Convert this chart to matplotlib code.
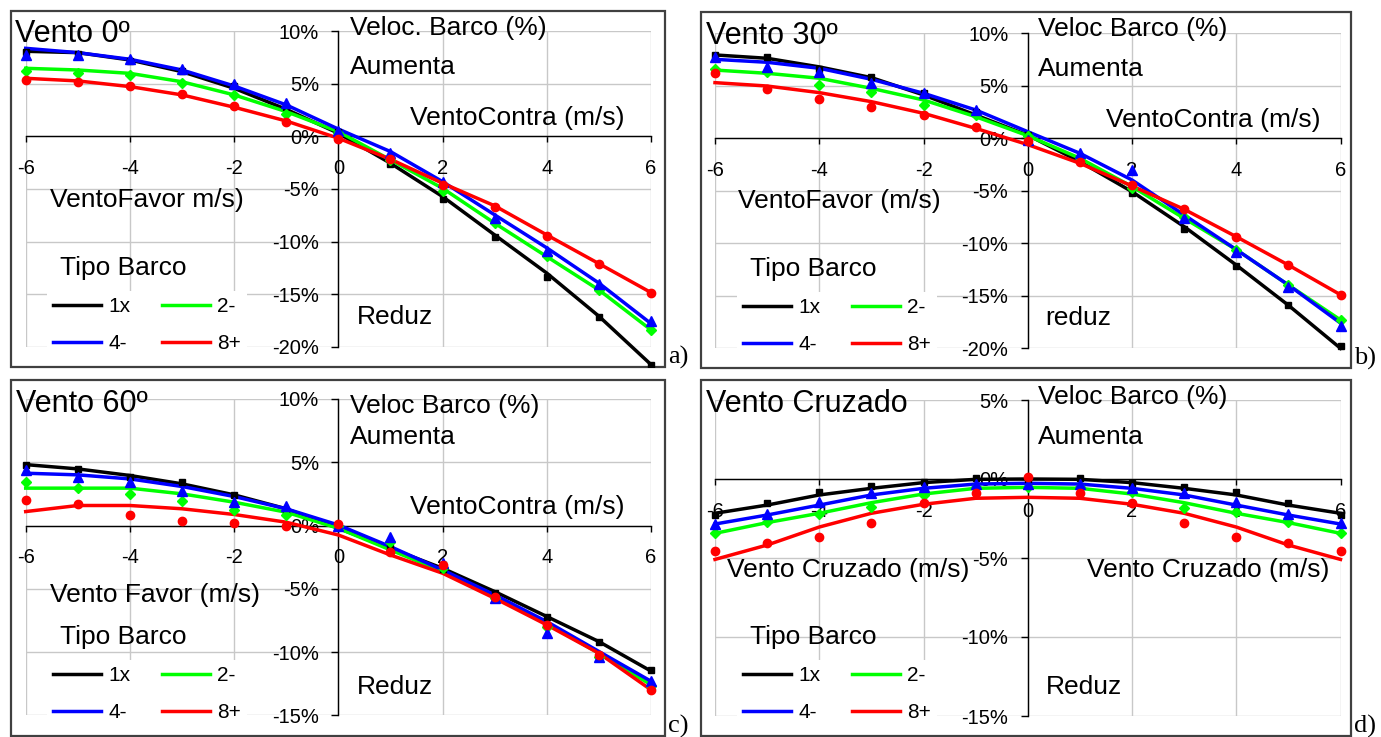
import matplotlib
matplotlib.use("Agg")
import matplotlib.pyplot as plt
from matplotlib.lines import Line2D
from matplotlib.patches import Rectangle
from matplotlib.ticker import FuncFormatter
from matplotlib.transforms import Bbox, TransformedBbox

plt.rcParams['font.family'] = ['Liberation Sans', 'DejaVu Sans']

# wind speed (m/s), negative = tail wind
vento = [-6, -5, -4, -3, -2, -1, 0, 1, 2, 3, 4, 5, 6]
tipos = ['1x', '2-', '4-', '8+']

# (a) Vento 0º - measured points and trend lines (%)
a_pts_1x = [8.06, 7.8, 7.2, 6.2, 4.8, 2.8, 0.4, -2.65, -5.97, -9.58, -13.4, -17.2, -21.7]
a_pts_2 = [6.23, 6.07, 5.85, 5.06, 3.94, 2.14, 0.3, -2.2, -5.15, -8.2, -11.4, -14.6, -18.4]
a_pts_4 = [7.75, 7.75, 7.34, 6.39, 4.99, 3.15, 0.5, -1.6, -4.3, -7.78, -10.85, -14.05, -17.6]
a_pts_8 = [5.37, 5.15, 4.8, 4.04, 2.9, 1.41, -0.2, -2.1, -4.6, -6.7, -9.43, -12.1, -14.85]
a_fit_1x = [8.1, 7.97, 7.27, 6.16, 4.58, 2.58, 0.3, -2.55, -5.72, -9.37, -13.0, -17.1, -21.7]
a_fit_2 = [6.48, 6.32, 6.0, 5.2, 3.95, 2.36, 0.46, -2.23, -4.93, -8.25, -11.43, -14.6, -18.4]
a_fit_4 = [8.38, 7.97, 7.34, 6.32, 4.8, 3.0, 0.7, -1.44, -4.3, -7.46, -10.6, -13.95, -17.8]
a_fit_8 = [5.53, 5.28, 4.74, 3.95, 2.78, 1.47, -0.17, -2.17, -4.45, -6.6, -9.37, -12.1, -14.85]

# (b) Vento 30º
b_pts_1x = [7.94, 7.7, 6.6, 5.81, 4.29, 2.54, 0.3, -2.1, -5.24, -8.67, -12.2, -15.9, -19.8]
b_pts_2 = [6.57, 6.35, 5.08, 4.45, 3.17, 2.2, 0.2, -1.9, -4.76, -7.46, -10.6, -13.97, -17.3]
b_pts_4 = [7.78, 6.8, 6.35, 5.3, 4.35, 2.7, -0.16, -1.43, -3.02, -7.62, -10.8, -14.2, -17.9]
b_pts_8 = [6.19, 4.67, 3.75, 3.02, 2.22, 1.11, -0.3, -2.3, -4.44, -6.76, -9.43, -12.07, -14.9]
b_fit_1x = [7.94, 7.62, 6.8, 5.78, 4.13, 2.22, 0.3, -2.22, -5.08, -8.41, -12.07, -15.9, -20.0]
b_fit_2 = [6.5, 6.19, 5.72, 4.76, 3.65, 2.06, 0.25, -1.9, -4.6, -7.62, -10.6, -13.97, -17.3]
b_fit_4 = [7.52, 7.24, 6.67, 5.62, 4.29, 2.7, 0.63, -1.43, -3.97, -7.3, -10.6, -13.97, -17.6]
b_fit_8 = [5.3, 4.98, 4.35, 3.49, 2.38, 0.95, -0.6, -2.38, -4.54, -6.76, -9.37, -12.07, -14.9]

# (c) Vento 60º
c_pts_1x = [4.81, 4.47, 3.87, 3.42, 2.42, 1.18, 0.0, -1.8, -3.4, -5.3, -7.19, -9.24, -11.45]
c_pts_2 = [3.47, 2.95, 2.5, 1.97, 1.24, 0.79, 0.0, -1.28, -3.38, -5.75, -7.98, -10.35, -12.7]
c_pts_4 = [4.39, 3.81, 3.42, 2.76, 1.84, 1.53, 0.0, -0.88, -2.93, -5.75, -8.5, -10.35, -12.3]
c_pts_8 = [2.05, 1.66, 0.84, 0.34, 0.21, 0.0, 0.12, -2.06, -3.1, -5.62, -7.85, -10.2, -13.0]
c_fit_1x = [4.81, 4.47, 3.95, 3.29, 2.42, 1.32, -0.22, -1.8, -3.38, -5.22, -7.19, -9.17, -11.5]
c_fit_2 = [2.95, 2.95, 2.95, 2.5, 1.84, 1.05, -0.22, -1.93, -3.64, -5.62, -7.72, -10.09, -12.58]
c_fit_4 = [4.13, 4.0, 3.68, 3.08, 2.29, 1.32, 0.04, -1.67, -3.51, -5.48, -7.59, -9.95, -12.3]
c_fit_8 = [1.1, 1.58, 1.58, 1.32, 0.87, 0.26, -0.75, -2.33, -3.77, -5.75, -7.85, -10.09, -12.98]

# (d) Vento Cruzado
d_pts_1x = [-2.28, -1.5, -0.84, -0.44, -0.17, 0.04, 0.0, 0.04, -0.23, -0.49, -0.84, -1.5, -2.28]
d_pts_2 = [-3.4, -2.7, -2.22, -1.79, -1.01, -0.53, -0.5, -0.53, -0.8, -1.81, -2.07, -2.7, -3.4]
d_pts_4 = [-2.85, -2.22, -1.43, -0.91, -0.53, -0.32, -0.3, -0.32, -0.59, -0.91, -1.43, -2.22, -2.81]
d_pts_8 = [-4.54, -4.03, -3.65, -2.76, -1.54, -0.91, 0.1, -0.91, -1.54, -2.76, -3.65, -4.03, -4.54]
d_fit_1x = [-2.17, -1.65, -1.01, -0.59, -0.23, -0.02, 0.0, -0.02, -0.23, -0.59, -1.01, -1.65, -2.17]
d_fit_2 = [-3.44, -2.76, -2.17, -1.5, -0.95, -0.59, -0.53, -0.59, -0.95, -1.5, -2.17, -2.76, -3.44]
d_fit_4 = [-2.85, -2.28, -1.65, -1.01, -0.59, -0.32, -0.27, -0.32, -0.59, -1.01, -1.65, -2.28, -2.85]
d_fit_8 = [-5.09, -4.18, -3.04, -2.17, -1.6, -1.22, -1.16, -1.22, -1.6, -2.17, -3.04, -4.18, -5.09]

colors = ['#000000', '#00ff00', '#0000ff', '#ff0000']
markers = ['s', 'D', '^', 'o']
msizes = [5, 5, 6.5, 6]

W, H = 1381, 737
fig = plt.figure(figsize=(W / 100, H / 100), dpi=100)


def fx(x):
    return x / W


def fy(y):
    return 1 - y / H


def panel(frame, area, ylim, pts, fits, texts, tag):
    # frame = (left, top, right, bottom) px, area = (x-6, ytop, x6, ybottom) px
    fl, ft, fr, fb = frame
    rect = Rectangle((fx(fl), fy(fb)), (fr - fl) / W, (fb - ft) / H,
                     transform=fig.transFigure, fill=False,
                     edgecolor='#404040', lw=1.6, zorder=0)
    fig.add_artist(rect)
    clip = TransformedBbox(Bbox.from_extents(fx(fl), fy(fb), fx(fr), fy(ft)),
                           fig.transFigure)

    x0, yt, x1, yb = area
    ax = fig.add_axes([fx(x0), fy(yb), (x1 - x0) / W, (yb - yt) / H])
    ax.patch.set_alpha(0)
    ax.set_xlim(-6, 6)
    ax.set_ylim(*ylim)
    ax.set_xticks(range(-6, 7, 2))
    ax.set_yticks(range(ylim[0], ylim[1] + 1, 5))
    ax.yaxis.set_major_formatter(FuncFormatter(lambda v, p: f'{v:.0f}%'))
    ax.xaxis.set_major_formatter(FuncFormatter(lambda v, p: f'{v:.0f}'))
    for s in ['top', 'right']:
        ax.spines[s].set_visible(False)
    ax.spines['left'].set_position(('data', 0))
    ax.spines['bottom'].set_position(('data', 0))
    ax.spines['left'].set_linewidth(1.0)
    ax.spines['bottom'].set_linewidth(1.0)
    ax.grid(True, color='#c8c8c8', lw=1.0)
    ax.set_axisbelow(True)
    ax.tick_params(axis='y', direction='out', length=5, width=1, pad=9, labelsize=14.5)
    ax.tick_params(axis='x', direction='out', length=4.5, width=1, pad=12, labelsize=14.5)

    for i in range(4):
        ln, = ax.plot(vento, fits[i], color=colors[i], lw=2.5, zorder=3)
        ln.set_clip_box(clip)
    for i in range(4):
        mk, = ax.plot(vento, pts[i], ls='none', marker=markers[i], ms=msizes[i],
                      color=colors[i], zorder=4)
        mk.set_clip_box(clip)

    for (tx, ty, s, size) in texts:
        fig.text(fx(tx), fy(ty), s, fontsize=size, ha='left', va='center')

    # legend
    handles = [Line2D([], [], color=c, lw=2.5) for c in colors]
    order = [0, 2, 1, 3]
    ax.legend([handles[k] for k in order], [tipos[k] for k in order],
              ncol=2, loc='upper left',
              bbox_to_anchor=(fx(fl + 36), fy(ft + 280)),
              bbox_transform=fig.transFigure, fontsize=15,
              frameon=True, facecolor='white', edgecolor='none',
              framealpha=1, fancybox=False, borderpad=0.3,
              handlelength=2.3, handletextpad=0.35, columnspacing=1.5,
              labelspacing=0.85, borderaxespad=0)
    fig.text(fx(fl + 49), fy(ft + 257), 'Tipo Barco', fontsize=19,
             ha='left', va='center')
    fig.text(fx(fr + 3), fy(fb - 10), tag, fontsize=19, ha='left', va='center',
             family=['Liberation Serif', 'DejaVu Serif'])
    return ax


panel((11, 11, 665, 367), (25.7, 31.3, 651, 346.7), (-20, 10),
      [a_pts_1x, a_pts_2, a_pts_4, a_pts_8], [a_fit_1x, a_fit_2, a_fit_4, a_fit_8],
      [(15, 34, 'Vento 0º', 22), (350, 28, 'Veloc. Barco (%)', 19),
       (350, 67, 'Aumenta', 19), (410, 118, 'VentoContra (m/s)', 19),
       (50, 200, 'VentoFavor m/s)', 19), (357, 317, 'Reduz', 19)], 'a)')

panel((701, 12, 1351, 368), (715, 33.3, 1340.5, 348.3), (-20, 10),
      [b_pts_1x, b_pts_2, b_pts_4, b_pts_8], [b_fit_1x, b_fit_2, b_fit_4, b_fit_8],
      [(706, 36, 'Vento 30º', 22), (1038, 29, 'Veloc Barco (%)', 19),
       (1038, 69, 'Aumenta', 19), (1106, 120, 'VentoContra (m/s)', 19),
       (738, 201, 'VentoFavor (m/s)', 19), (1045, 318, 'reduz', 19)], 'b)')

panel((11, 380, 665, 736), (25.7, 398.9, 651, 715.4), (-15, 10),
      [c_pts_1x, c_pts_2, c_pts_4, c_pts_8], [c_fit_1x, c_fit_2, c_fit_4, c_fit_8],
      [(16, 404, 'Vento 60º', 22), (350, 406, 'Veloc Barco (%)', 19),
       (350, 437, 'Aumenta', 19), (410, 507, 'VentoContra (m/s)', 19),
       (50, 595, 'Vento Favor (m/s)', 19), (357, 687, 'Reduz', 19)], 'c)')

panel((701, 380, 1351, 736), (715, 400, 1340.5, 716), (-15, 5),
      [d_pts_1x, d_pts_2, d_pts_4, d_pts_8], [d_fit_1x, d_fit_2, d_fit_4, d_fit_8],
      [(706, 404, 'Vento Cruzado', 22), (1038, 397, 'Veloc Barco (%)', 19),
       (1038, 437, 'Aumenta', 19), (727, 570, 'Vento Cruzado (m/s)', 19),
       (1087, 570, 'Vento Cruzado (m/s)', 19), (1046, 687, 'Reduz', 19)], 'd)')

fig.savefig('out.png', dpi=100)
